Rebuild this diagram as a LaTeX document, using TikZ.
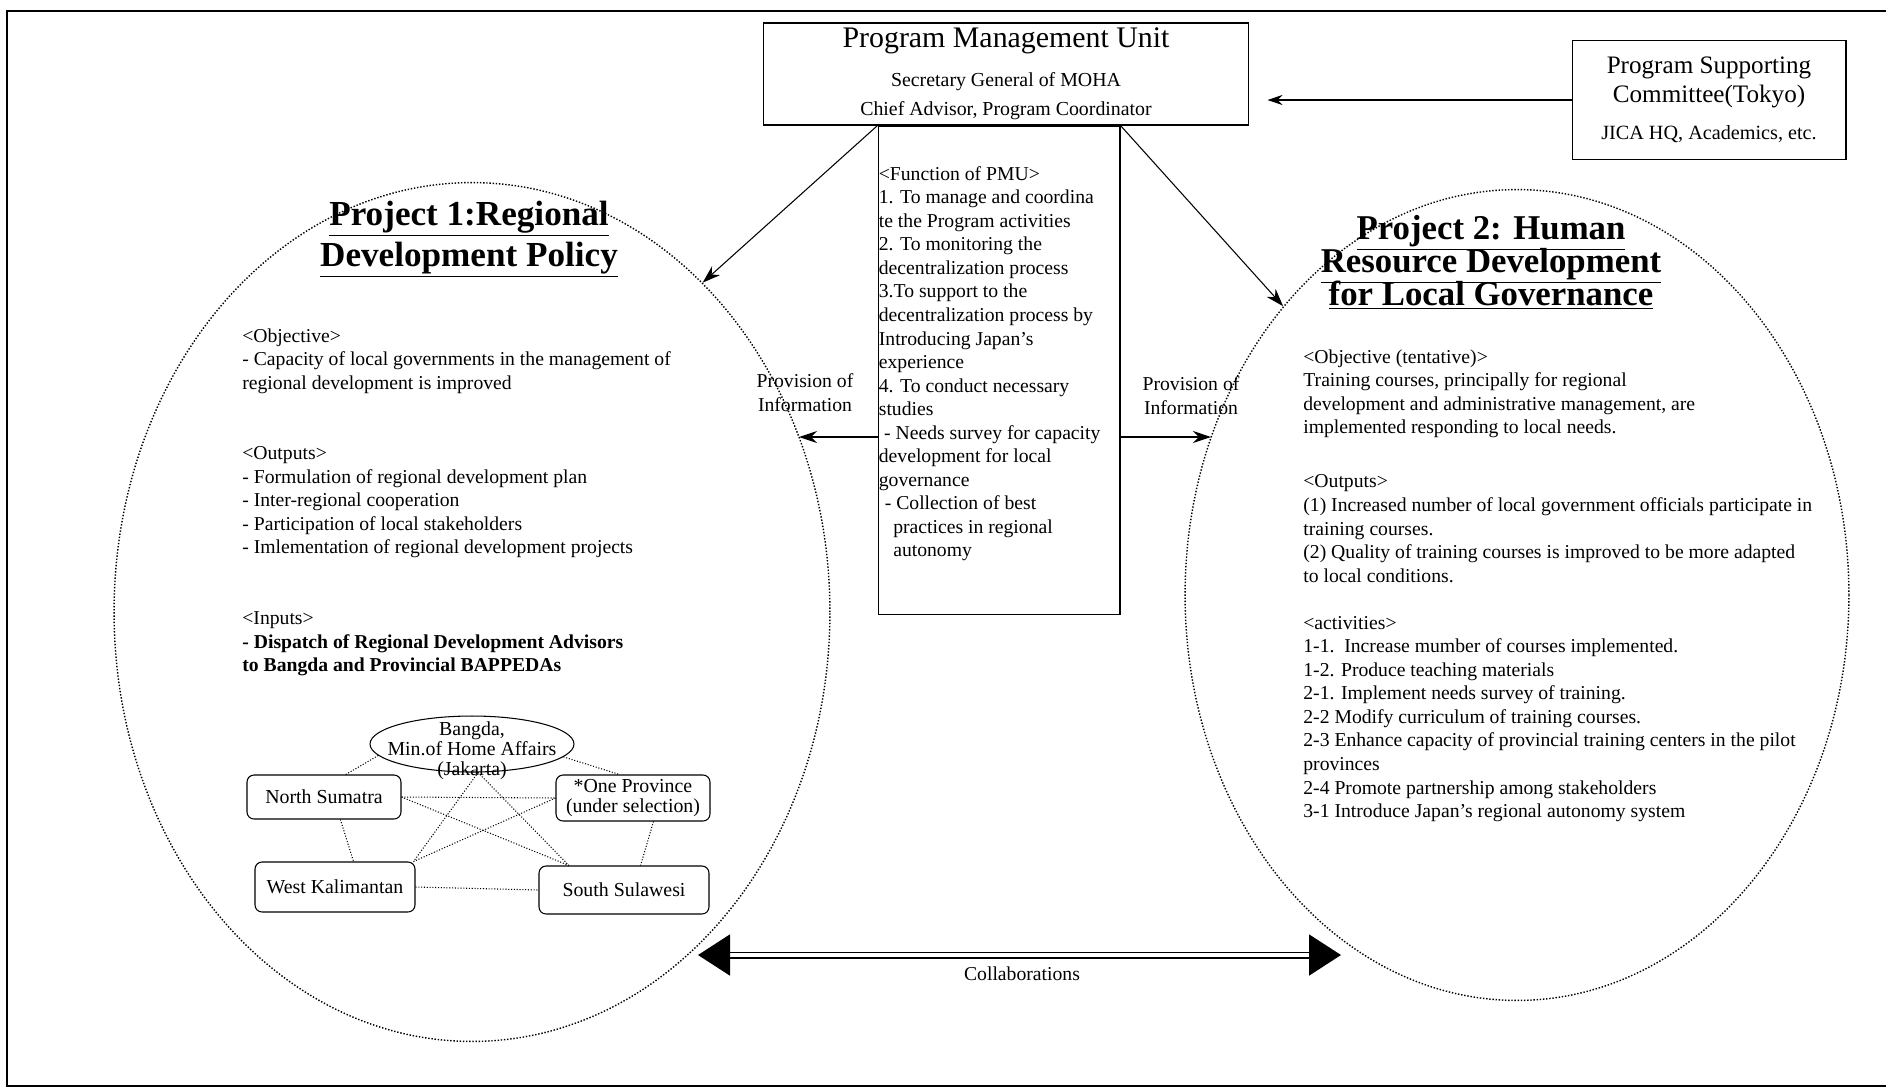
\documentclass[tikz,border=0pt]{standalone}
\usepackage{fontspec}
\setmainfont{Liberation Serif}
\usetikzlibrary{shapes.geometric, arrows.meta, positioning}

\begin{document}
\begin{tikzpicture}[x=0.02cm, y=-0.02cm,
        body/.style={font=\fontsize{11.2}{13.4}\selectfont, align=left, inner sep=0pt, anchor=north west},
        note/.style={font=\fontsize{11.2}{13.6}\selectfont, align=center, inner sep=0pt},
        projtitle/.style={font={\bfseries\fontsize{20}{23.3}\selectfont\lineskiplimit-20pt}, align=center, inner sep=0pt},
        unitbox/.style={draw, line width=0.6pt, inner sep=0pt, align=center},
        sitebox/.style={draw, rounded corners=4pt, line width=0.6pt, inner sep=0pt, align=center, font=\fontsize{11.3}{11.2}\selectfont},
        project/.style={draw, ellipse, densely dotted, line width=0.8pt, inner sep=0pt},
        netlink/.style={densely dotted, line width=0.6pt},
        feed/.style={-{Stealth[length=0.36cm, width=0.24cm]}, line width=0.6pt}]
    \useasboundingbox (0, 0) rectangle (1886, 1090);
    \draw[line width=0.9pt] (1886, 11) -- (7, 11) -- (7, 1086) -- (1886, 1086);

    \node[project, minimum width=14.32cm, minimum height=17.18cm] (proj1) at (472, 612) {};
    \node[project, minimum width=13.28cm, minimum height=16.22cm] (proj2) at (1517, 595) {};

    \node[unitbox, minimum width=9.72cm, minimum height=2.04cm, font=\fontsize{11.3}{13.5}\selectfont] (pmu) at (1006, 74)
        {\fontsize{17}{20}\selectfont Program Management Unit\\[8.5pt] Secretary General of MOHA\\[3pt] Chief Advisor, Program Coordinator};
    \node[unitbox, minimum width=5.48cm, minimum height=2.38cm, font=\fontsize{14.3}{16.5}\selectfont] (psc) at (1709, 100)
        {Program Supporting\\ Committee(Tokyo)\\[4.5pt] \fontsize{11.5}{13.5}\selectfont JICA HQ, Academics, etc.};
    \node[unitbox, minimum width=4.84cm, minimum height=9.78cm, below=0pt of pmu, xshift=-0.14cm] (fn) {};
    \node[body] (pmutasks) at ([xshift=0.02cm, yshift=-0.81cm]fn.north west)
        {<Function of PMU>\\
        1. To manage and coordina\\
        te the Program activities\\
        2. To monitoring the\\
        decentralization process\\
        3.To support to the\\
        decentralization process by\\
        Introducing Japan’s\\
        experience\\
        4. To conduct necessary\\
        studies\\
        \hspace{3pt}- Needs survey for capacity\\
        development for local\\
        governance\\
        \hspace{3.4pt}- Collection of best\\
        \hspace{8.2pt}practices in regional\\
        \hspace{8.2pt}autonomy};

    \draw[feed, -{Stealth[length=0.3cm, width=0.2cm]}, shorten >=0.36cm] (psc.west) -- (psc.west -| pmu.east);
    \draw[feed] (fn.north west) -- (proj1.55);
    \draw[feed] (fn.north east) -- (proj2.129);

    \coordinate (provL) at (799, 437);
    \coordinate (provR) at (1211, 437);
    \draw[feed] (fn.west |- provL) -- (provL);
    \draw[feed] (fn.east |- provR) -- (provR);
    \node[note] (provLtxt) at (805, 393) {Provision of\\ Information};
    \node[note] (provRtxt) at (1191, 396) {Provision of\\ Information};

    \node[projtitle] (p1title) at (469, 239) {\underline{Project 1:Regional}\\ \underline{Development Policy}};
    \node[body] (p1text) at (242, 328)
        {<Objective>\\
        - Capacity of local governments in the management of\\
        regional development is improved\\[26.8pt]
        <Outputs>\\
        - Formulation of regional development plan\\
        - Inter-regional cooperation\\
        - Participation of local stakeholders\\
        - Imlementation of regional development projects\\[26.8pt]
        <Inputs>\\
        \bfseries - Dispatch of Regional Development Advisors\\
        \bfseries to Bangda and Provincial BAPPEDAs};

    \node[projtitle, font={\bfseries\fontsize{19.8}{18.8}\selectfont\lineskiplimit-20pt}] (p2title) at (1491, 262)
        {\underline{Project 2: Human}\\ \underline{Resource Development}\\ \underline{for Local Governance}};
    \node[body] (p2text) at (1303, 349)
        {<Objective (tentative)>\\
        Training courses, principally for regional\\
        development and administrative management, are\\
        implemented responding to local needs.\\[17.5pt]
        <Outputs>\\
        (1) Increased number of local government officials participate in\\
        training courses.\\
        (2) Quality of training courses is improved to be more adapted\\
        to local conditions.\\[13.4pt]
        <activities>\\
        1-1.\ \ Increase mumber of courses implemented.\\
        1-2. Produce teaching materials\\
        2-1. Implement needs survey of training.\\
        2-2 Modify curriculum of training courses.\\
        2-3 Enhance capacity of provincial training centers in the pilot\\
        provinces\\
        2-4 Promote partnership among stakeholders\\
        3-1 Introduce Japan’s regional autonomy system};

    \node[draw, ellipse, line width=0.6pt, minimum width=4.08cm, minimum height=1.12cm, inner sep=0pt] (bangda) at (472, 744) {};
    \node[note, font=\fontsize{11.3}{11.3}\selectfont] (bangdatxt) at (472, 751) {Bangda,\\ Min.of Home Affairs\\ (Jakarta)};
    \node[sitebox, minimum width=3.08cm, minimum height=0.88cm] (nsum) at (324, 797) {North Sumatra};
    \node[sitebox, minimum width=3.08cm, minimum height=0.92cm] (oprov) at (633, 798) {*One Province\\ (under selection)};
    \node[sitebox, minimum width=3.2cm, minimum height=1cm] (wkal) at (335, 887) {West Kalimantan};
    \node[sitebox, minimum width=3.4cm, minimum height=0.96cm] (ssul) at (624, 890) {South Sulawesi};

    \draw[netlink] (bangda.187) -- (nsum.46);
    \draw[netlink] (bangda.-8) -- (oprov.120);
    \draw[netlink] (nsum.east) -- (oprov.west);
    \draw[netlink] (nsum.east) -- (ssul.156);
    \draw[netlink] (oprov.west) -- (wkal.18);
    \draw[netlink] (bangda.-78) -- (wkal.18);
    \draw[netlink] (bangda.-78) -- (ssul.156);
    \draw[netlink] (nsum.-54) -- (wkal.54);
    \draw[netlink] (oprov.-49) -- (ssul.56);
    \draw[netlink] (wkal.east) -- (ssul.west);

    \coordinate (collabL) at (698, 955);
    \coordinate (collabR) at (1341, 955);
    \draw[white, line width=1pt, {Triangle[color=black, length=0.64cm, width=0.82cm]}-{Triangle[color=black, length=0.64cm, width=0.82cm]}] (collabL) -- (collabR);
    \draw[line width=0.8pt, shorten <=0.3cm, shorten >=0.3cm] ([yshift=1.6pt]collabL) -- ([yshift=1.6pt]collabR);
    \draw[line width=0.8pt, shorten <=0.3cm, shorten >=0.3cm] ([yshift=-1.6pt]collabL) -- ([yshift=-1.6pt]collabR);
    \node[note] (collabtxt) at (1022, 974) {Collaborations};
\end{tikzpicture}
\end{document}
